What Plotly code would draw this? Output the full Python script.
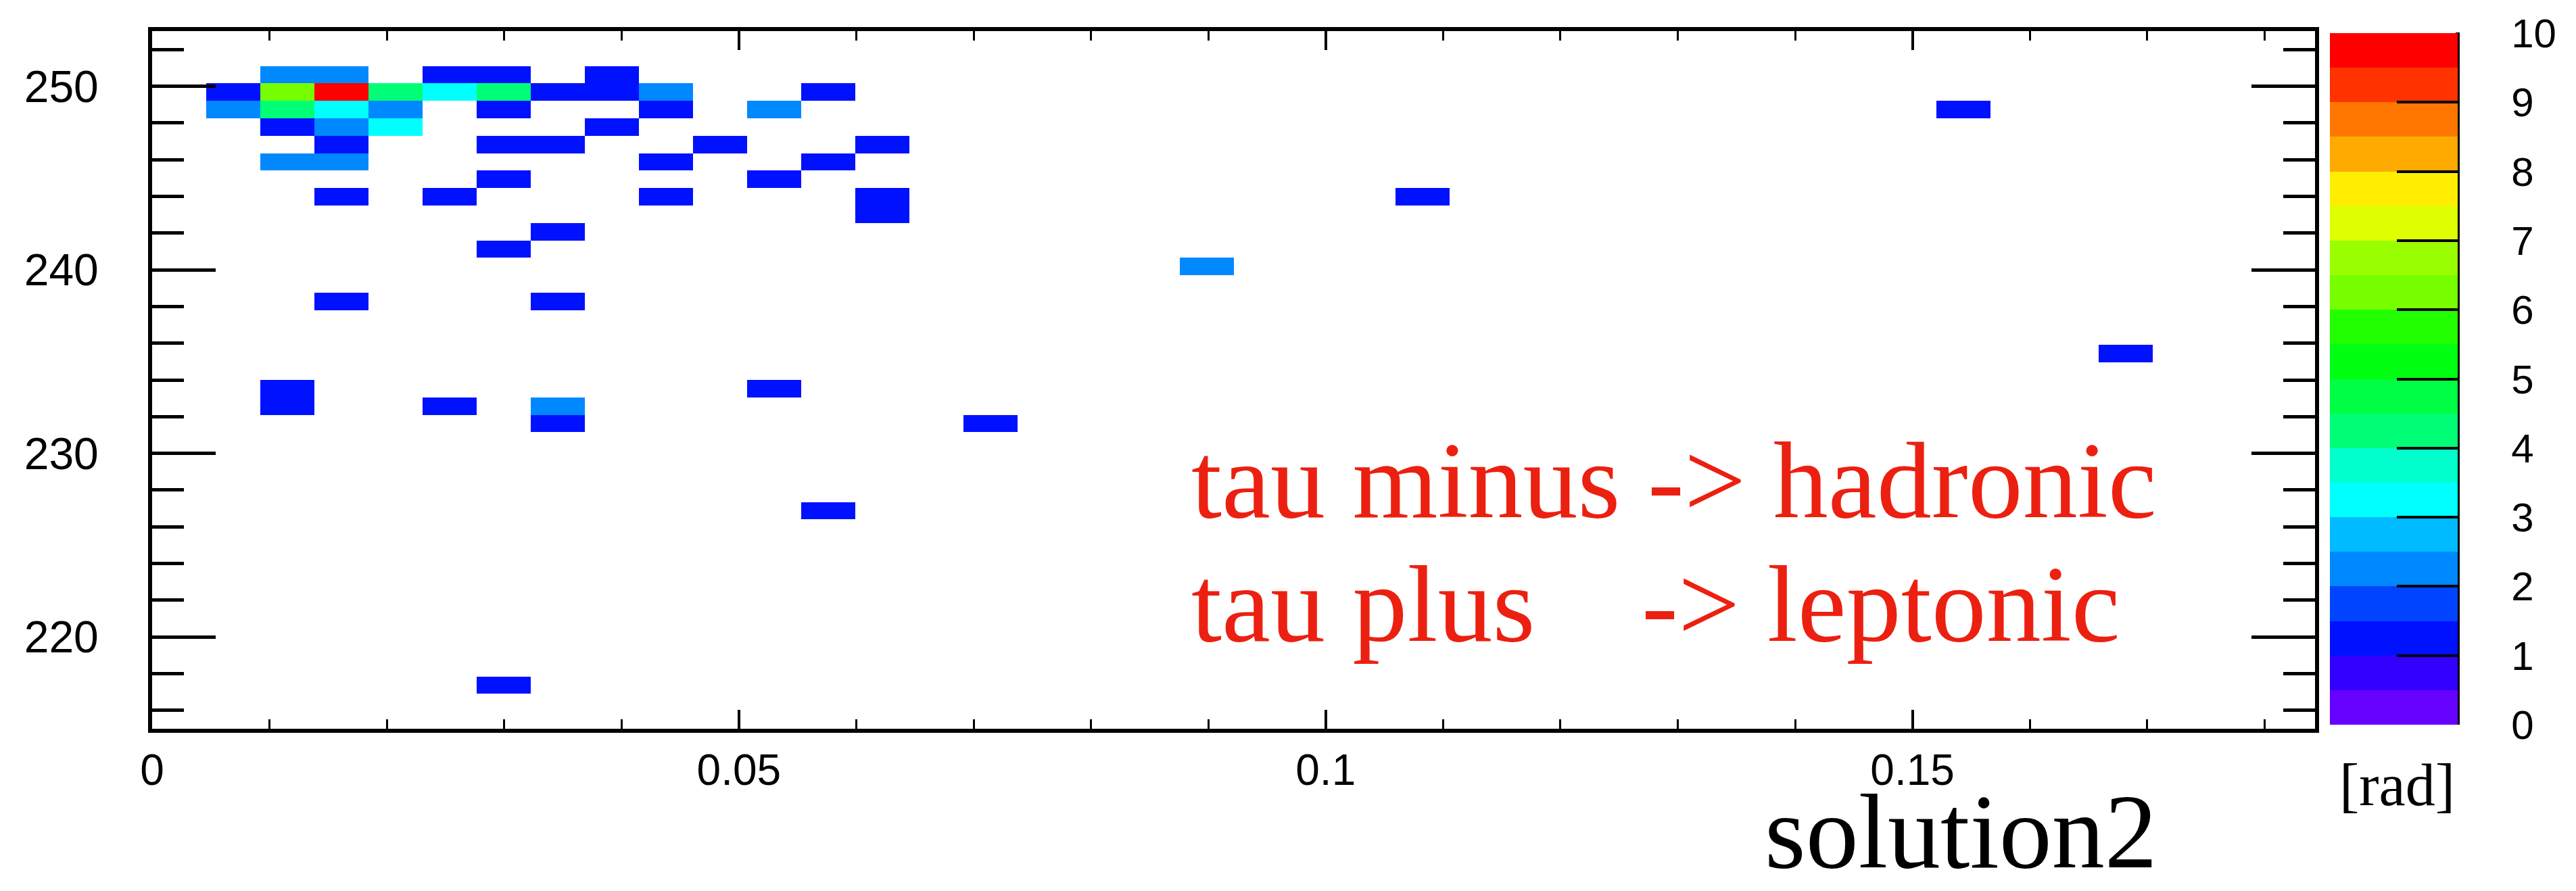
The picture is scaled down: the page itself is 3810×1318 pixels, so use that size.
import plotly.graph_objects as go

x_vals = [
    0.0115, 0.0161, 0.0253, 0.0299, 0.0392,
    0.0069, 0.0115, 0.0161, 0.0207, 0.0253, 0.0299, 0.0346, 0.0392, 0.0438, 0.0576,
    0.0069, 0.0115, 0.0161, 0.0207, 0.0299, 0.0438, 0.0530, 0.1544,
    0.0115, 0.0161, 0.0207, 0.0392,
    0.0161, 0.0299, 0.0346, 0.0484, 0.0622,
    0.0115, 0.0161, 0.0438, 0.0576,
    0.0299, 0.0530,
    0.0161, 0.0253, 0.0438, 0.0622, 0.1083,
    0.0622,
    0.0346,
    0.0299,
    0.0898,
    0.0161, 0.0346,
    0.1682,
    0.0115, 0.0530,
    0.0115, 0.0253, 0.0346,
    0.0346, 0.0714,
    0.0576,
    0.0299,
]
y_vals = (
    [250.6] * 5
    + [249.7] * 10
    + [248.7] * 8
    + [247.8] * 4
    + [246.8] * 5
    + [245.9] * 4
    + [244.9] * 2
    + [244.0] * 5
    + [243.0]
    + [242.1]
    + [241.1]
    + [240.2]
    + [238.3] * 2
    + [235.4]
    + [233.5] * 2
    + [232.6] * 3
    + [231.6] * 2
    + [226.9]
    + [217.4]
)
counts = [
    2, 2, 1, 1, 1,
    1, 6, 10, 4, 3, 4, 1, 1, 2, 1,
    2, 4, 3, 2, 1, 1, 2, 1,
    1, 2, 3, 1,
    1, 1, 1, 1, 1,
    2, 2, 1, 1,
    1, 1,
    1, 1, 1, 1, 1,
    1,
    1,
    1,
    2,
    1, 1,
    1,
    1, 1,
    1, 1, 2,
    1, 1,
    1,
    1,
]

x_ticks = [0, 0.05, 0.1, 0.15]
x_tick_text = ["0", "0.05", "0.1", "0.15"]
y_ticks = [220, 230, 240, 250]
z_ticks = list(range(0, 11))

# 20-level palette (bottom -> top)
band_colors = [
    "#6600ff", "#3300ff", "#0011ff", "#0044ff", "#0088ff",
    "#00bbff", "#00ffff", "#00ffcc", "#00ff77", "#00ff44",
    "#00ff11", "#22ff00", "#77ff00", "#99ff00", "#ddff00",
    "#ffee00", "#ffaa00", "#ff7700", "#ff3300", "#ff0000",
]
n = len(band_colors)
colorscale = [[0.0, "rgba(255,255,255,0)"]]
for k, c in enumerate(band_colors):
    lo = k / n if k > 0 else 1e-9
    hi = (k + 1) / n - 1e-9 if k < n - 1 else 1.0
    colorscale.append([lo, c])
    colorscale.append([hi, c])

XMAX = 0.1843
YMIN, YMAX = 215, 253
NB = 40

# plot frame in pixels
W, H = 3810, 1318
L, R, T, B = 225, 3424, 46, 1078
pw, ph = R - L, B - T


def px(xp):
    return (xp - L) / pw


def py(yp):
    return (B - yp) / ph


sans = "Liberation Sans, Arial, sans-serif"
serif = "Liberation Serif, Times New Roman, serif"

fig = go.Figure()
fig.add_trace(
    go.Histogram2d(
        x=x_vals,
        y=y_vals,
        z=counts,
        histfunc="sum",
        autobinx=False,
        autobiny=False,
        xbins=dict(start=0, end=XMAX, size=XMAX / NB),
        ybins=dict(start=YMIN, end=YMAX, size=(YMAX - YMIN) / NB),
        zmin=0,
        zmax=10,
        zauto=False,
        colorscale=colorscale,
        colorbar=dict(
            x=px(3446),
            xanchor="left",
            xpad=0,
            ypad=0,
            thickness=189,
            thicknessmode="pixels",
            len=1023,
            lenmode="pixels",
            y=py(1072),
            yanchor="bottom",
            outlinewidth=0,
            ticks="inside",
            ticklen=90,
            tickwidth=4,
            tickcolor="black",
            tickmode="array",
            tickvals=z_ticks,
            ticktext=["\u00a0\u00a0\u00a0\u00a0" + str(v) for v in z_ticks],
            tickfont=dict(family=sans, size=60, color="black"),
        ),
        hoverinfo="skip",
    )
)

axis_common = dict(
    showline=True,
    linecolor="black",
    linewidth=6,
    mirror="ticks",
    ticks="inside",
    tickcolor="black",
    showgrid=False,
    zeroline=False,
)

fig.update_xaxes(
    range=[0, XMAX],
    tickmode="array",
    tickvals=x_ticks,
    ticktext=x_tick_text,
    ticklen=28,
    tickwidth=4,
    minor=dict(dtick=0.01, tick0=0, ticks="inside", ticklen=14, tickwidth=3, tickcolor="black"),
    ticklabelstandoff=0,
    tickfont=dict(family=sans, size=64, color="black"),
    **axis_common,
)
fig.update_yaxes(
    range=[YMIN, YMAX],
    tickmode="array",
    tickvals=y_ticks,
    ticktext=[str(v) for v in y_ticks],
    ticklen=94,
    tickwidth=5,
    minor=dict(dtick=2, tick0=0, ticks="inside", ticklen=47, tickwidth=5, tickcolor="black"),
    ticklabelstandoff=60,
    tickfont=dict(family=sans, size=66, color="black"),
    **axis_common,
)

red = "#ec2010"
annotations = [
    dict(text="tau minus -> hadronic", x=px(1760), y=py(710), xanchor="left", yanchor="middle",
         font=dict(family=serif, size=162, color=red)),
    dict(text="tau plus", x=px(1760), y=py(893), xanchor="left", yanchor="middle",
         font=dict(family=serif, size=162, color=red)),
    dict(text="-> leptonic", x=px(2426), y=py(893), xanchor="left", yanchor="middle",
         font=dict(family=serif, size=162, color=red)),
    dict(text="solution2", x=px(2900), y=py(1230), xanchor="center", yanchor="middle",
         font=dict(family=serif, size=156, color="black")),
    dict(text="[rad]", x=px(3545), y=py(1161), xanchor="center", yanchor="middle",
         font=dict(family=serif, size=88, color="black")),
]
for a in annotations:
    a.update(xref="paper", yref="paper", showarrow=False)

fig.update_layout(
    width=W,
    height=H,
    margin=dict(l=L, r=W - R, t=T, b=H - B, pad=0, autoexpand=False),
    paper_bgcolor="white",
    plot_bgcolor="white",
    annotations=annotations,
    shapes=[
        dict(type="line", xref="paper", yref="paper", x0=px(3635), x1=px(3635),
             y0=py(1072), y1=py(48), line=dict(color="black", width=6)),
    ],
    showlegend=False,
)

fig.write_html("out.html")
